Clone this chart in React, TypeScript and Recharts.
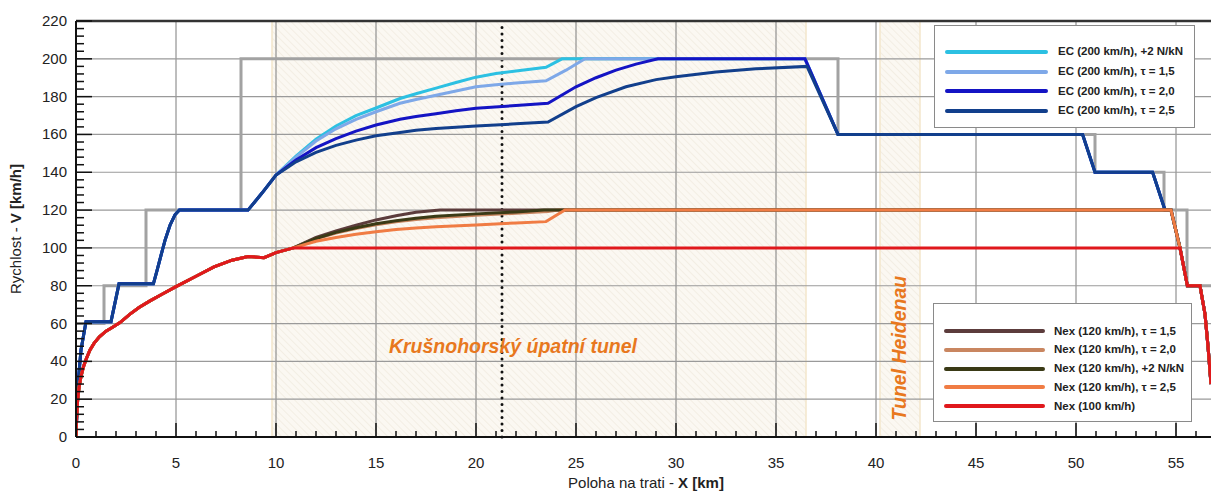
import React from "react";
import {
  LineChart,
  Line,
  XAxis,
  YAxis,
  ReferenceLine,
  ReferenceArea,
  ReferenceDot,
} from "recharts";

const FONT = "'Liberation Sans', Arial, sans-serif";

// speed limit (gray step line)
const speedLimit = [
  { x: 0, v: 60 }, { x: 1.4, v: 60 }, { x: 1.4, v: 80 }, { x: 3.5, v: 80 },
  { x: 3.5, v: 120 }, { x: 8.25, v: 120 }, { x: 8.25, v: 200 }, { x: 38.1, v: 200 },
  { x: 38.1, v: 160 }, { x: 50.95, v: 160 }, { x: 50.95, v: 140 }, { x: 54.4, v: 140 },
  { x: 54.4, v: 120 }, { x: 55.55, v: 120 }, { x: 55.55, v: 80 }, { x: 56.75, v: 80 },
];

// common parts
const ecStart = [
  { x: 0, v: 0 }, { x: 0.1, v: 28 }, { x: 0.25, v: 46 }, { x: 0.5, v: 61 },
  { x: 1.75, v: 61 }, { x: 2.15, v: 81 }, { x: 3.87, v: 81 }, { x: 4.05, v: 88 },
  { x: 4.25, v: 96 }, { x: 4.45, v: 104 }, { x: 4.7, v: 112 }, { x: 4.95, v: 117.5 },
  { x: 5.17, v: 120 }, { x: 8.6, v: 120 }, { x: 9.3, v: 129 }, { x: 10, v: 138.5 },
];
const ecTail = [
  { x: 38.1, v: 160 }, { x: 50.33, v: 160 }, { x: 50.95, v: 140 }, { x: 53.83, v: 140 },
  { x: 54.45, v: 120 },
];
const endDescent = [
  { x: 54.75, v: 120 }, { x: 55.2, v: 100 }, { x: 55.57, v: 80 }, { x: 56.2, v: 80 },
  { x: 56.45, v: 65 }, { x: 56.6, v: 48 }, { x: 56.75, v: 28 },
];
const nexStart = [
  { x: 0, v: 0 }, { x: 0.03, v: 10 }, { x: 0.08, v: 19 }, { x: 0.15, v: 26 },
  { x: 0.25, v: 32 }, { x: 0.37, v: 37 }, { x: 0.5, v: 41 }, { x: 0.7, v: 46 },
  { x: 0.9, v: 49.5 }, { x: 1.17, v: 53 }, { x: 1.5, v: 56 }, { x: 1.83, v: 58 },
  { x: 2.2, v: 60.5 }, { x: 2.7, v: 65 }, { x: 3.15, v: 68.5 }, { x: 3.7, v: 72 },
  { x: 4.3, v: 75.5 }, { x: 5.0, v: 79.5 }, { x: 6.0, v: 85 }, { x: 6.9, v: 90 },
  { x: 7.8, v: 93.5 }, { x: 8.6, v: 95.5 }, { x: 9.4, v: 94.8 }, { x: 10.0, v: 97.5 },
  { x: 10.87, v: 100 },
];

const ecPlus2 = [
  ...ecStart,
  { x: 10.5, v: 143.5 }, { x: 11, v: 148.5 }, { x: 12, v: 157.5 }, { x: 13, v: 164.5 },
  { x: 14, v: 170 }, { x: 15, v: 174 }, { x: 16.2, v: 179 }, { x: 17, v: 181.5 },
  { x: 18, v: 184.5 }, { x: 19, v: 187.5 }, { x: 20, v: 190.3 }, { x: 21, v: 192.2 },
  { x: 22, v: 193.6 }, { x: 23.5, v: 195.5 }, { x: 24.3, v: 200 }, { x: 36.45, v: 200 },
  ...ecTail, ...endDescent,
];
const ecTau15 = [
  ...ecStart,
  { x: 10.5, v: 143.2 }, { x: 11, v: 148 }, { x: 12, v: 156.5 }, { x: 13, v: 163 },
  { x: 14, v: 168 }, { x: 15, v: 172 }, { x: 16.2, v: 176.5 }, { x: 17, v: 178.5 },
  { x: 18, v: 180.7 }, { x: 19, v: 183 }, { x: 20, v: 185.2 }, { x: 21, v: 186.3 },
  { x: 22, v: 187.2 }, { x: 23.5, v: 188.4 }, { x: 24.5, v: 194 }, { x: 25.45, v: 200 },
  { x: 36.45, v: 200 },
  ...ecTail, ...endDescent,
];
const ecTau20 = [
  ...ecStart,
  { x: 10.5, v: 142.5 }, { x: 11, v: 146.5 }, { x: 12, v: 153 }, { x: 13, v: 157.8 },
  { x: 14, v: 161.8 }, { x: 15, v: 165 }, { x: 16.2, v: 168 }, { x: 17, v: 169.5 },
  { x: 18, v: 171 }, { x: 19, v: 172.5 }, { x: 20, v: 173.8 }, { x: 22, v: 175.3 },
  { x: 23.6, v: 176.5 }, { x: 25, v: 185.2 }, { x: 26, v: 190 }, { x: 27, v: 194 },
  { x: 28, v: 197.2 }, { x: 29.1, v: 200 }, { x: 36.45, v: 200 },
  ...ecTail, ...endDescent,
];
const ecTau25 = [
  ...ecStart,
  { x: 10.5, v: 142 }, { x: 11, v: 145.5 }, { x: 12, v: 150.5 }, { x: 13, v: 154.2 },
  { x: 14, v: 157 }, { x: 15, v: 159.3 }, { x: 16.2, v: 161 }, { x: 17, v: 162.2 },
  { x: 18, v: 163.2 }, { x: 20, v: 164.5 }, { x: 22, v: 165.6 }, { x: 23.6, v: 166.6 },
  { x: 25, v: 174.7 }, { x: 26, v: 179.5 }, { x: 27.5, v: 185.2 }, { x: 29, v: 189 },
  { x: 30, v: 190.5 }, { x: 32, v: 193 }, { x: 34, v: 194.7 }, { x: 36.55, v: 196 },
  ...ecTail, ...endDescent,
];

const nexTau15 = [
  ...nexStart,
  { x: 12, v: 105.5 }, { x: 13, v: 109 }, { x: 14, v: 112 }, { x: 15, v: 114.8 },
  { x: 16, v: 117 }, { x: 17, v: 118.8 }, { x: 18.2, v: 120 },
  ...endDescent,
];
const nexTau20 = [
  ...nexStart,
  { x: 12, v: 104.8 }, { x: 13, v: 107.8 }, { x: 14, v: 110.2 }, { x: 15, v: 112.2 },
  { x: 16, v: 113.8 }, { x: 17, v: 115 }, { x: 18, v: 116 }, { x: 20, v: 117.3 },
  { x: 22, v: 118.3 }, { x: 23.6, v: 119.2 }, { x: 24.1, v: 120 },
  ...endDescent,
];
const nexPlus2 = [
  ...nexStart,
  { x: 12, v: 105 }, { x: 13, v: 108.2 }, { x: 14, v: 110.7 }, { x: 15, v: 112.8 },
  { x: 16, v: 114.4 }, { x: 17, v: 115.7 }, { x: 18, v: 116.8 }, { x: 20, v: 118 },
  { x: 22, v: 119 }, { x: 23.4, v: 120 },
  ...endDescent,
];
const nexTau25 = [
  ...nexStart,
  { x: 12, v: 103.5 }, { x: 13, v: 105.5 }, { x: 14, v: 107.2 }, { x: 15, v: 108.6 },
  { x: 16, v: 109.7 }, { x: 17, v: 110.5 }, { x: 18, v: 111.2 }, { x: 20, v: 112.1 },
  { x: 22, v: 113.2 }, { x: 23.5, v: 113.9 }, { x: 24.45, v: 120 },
  ...endDescent,
];
const nex100 = [
  ...nexStart,
  { x: 55.2, v: 100 }, { x: 55.57, v: 80 }, { x: 56.2, v: 80 },
  { x: 56.45, v: 65 }, { x: 56.6, v: 48 }, { x: 56.75, v: 28 },
];

const ecSeries = [
  { name: "EC (200 km/h), +2 N/kN", color: "#2cc0e2", data: ecPlus2 },
  { name: "EC (200 km/h), τ = 1,5", color: "#7ea8e8", data: ecTau15 },
  { name: "EC (200 km/h), τ = 2,0", color: "#1414c4", data: ecTau20 },
  { name: "EC (200 km/h), τ = 2,5", color: "#123f8c", data: ecTau25 },
];
const nexSeries = [
  { name: "Nex (120 km/h), τ = 1,5", color: "#5c3c3c", data: nexTau15 },
  { name: "Nex (120 km/h), τ = 2,0", color: "#c98660", data: nexTau20 },
  { name: "Nex (120 km/h), +2 N/kN", color: "#3a3a16", data: nexPlus2 },
  { name: "Nex (120 km/h), τ = 2,5", color: "#f07c44", data: nexTau25 },
  { name: "Nex (100 km/h)", color: "#e0181c", data: nex100 },
];

const xTicks = Array.from({ length: 57 }, (_, i) => i);
const yTicks = Array.from({ length: 56 }, (_, i) => i * 4);
const xGrid = [5, 10, 15, 20, 25, 30, 35, 40, 45, 50, 55];
const yGrid = [20, 40, 60, 80, 100, 120, 140, 160, 180, 200];

const tunnels = [
  { x1: 9.8, x2: 36.5 },
  { x1: 40.2, x2: 42.2 },
];
const markerKm = 21.3;

const XTick = (props: any) => {
  const { x, y, payload } = props;
  const major = payload.value % 5 === 0;
  return (
    <g>
      <line x1={x} x2={x} y1={y} y2={y - (major ? 14 : 6)} stroke="#111" strokeWidth={1.5} />
      {major && (
        <text x={x} y={y + 31} textAnchor="middle" fontSize={15} fill="#222" fontFamily={FONT}>
          {payload.value}
        </text>
      )}
    </g>
  );
};

const YTick = (props: any) => {
  const { x, y, payload } = props;
  const major = payload.value % 20 === 0;
  return (
    <g>
      <line x1={x} x2={x + (major ? 16 : 8)} y1={y} y2={y} stroke="#111" strokeWidth={1.5} />
      {major && (
        <text x={x - 9} y={y + 5} textAnchor="end" fontSize={15} fill="#222" fontFamily={FONT}>
          {payload.value}
        </text>
      )}
    </g>
  );
};

const LegendBox = ({ items, style, lineLen, textLeft, rowH, top }: any) => (
  <div
    style={{
      position: "absolute",
      background: "#fff",
      border: "1px solid #8a8a8a",
      boxSizing: "border-box",
      fontFamily: FONT,
      fontWeight: "bold",
      fontSize: 11.5,
      color: "#222",
      ...style,
    }}
  >
    {items.map((s: any, i: number) => (
      <div
        key={s.name}
        style={{ position: "absolute", left: 0, top: top + i * rowH - rowH / 2, height: rowH, width: "100%" }}
      >
        <div
          style={{
            position: "absolute",
            left: 10,
            top: rowH / 2 - 2,
            width: lineLen,
            height: 4,
            background: s.color,
            borderRadius: 2,
          }}
        />
        <div style={{ position: "absolute", left: textLeft, top: 0, lineHeight: rowH + "px", whiteSpace: "nowrap" }}>
          {s.name}
        </div>
      </div>
    ))}
  </div>
);

export default function App() {
  return (
    <div style={{ position: "absolute", left: 0, top: 0, width: 1211, height: 491, background: "#fff", overflow: "hidden" }}>
      <LineChart width={1211} height={491} margin={{ top: 21, right: 0, left: 0, bottom: 0 }}>
        <defs>
          <pattern id="hatch" width="5" height="5" patternUnits="userSpaceOnUse" patternTransform="rotate(-45)">
            <rect width="5" height="5" fill="#fbf8f2" />
            <line x1="0" y1="0" x2="0" y2="5" stroke="#efe8dc" strokeWidth="1.2" />
          </pattern>
        </defs>
        <XAxis
          type="number"
          dataKey="x"
          domain={[0, 56.75]}
          ticks={xTicks}
          interval={0}
          tickLine={false}
          tickSize={0}
          tickMargin={0}
          tick={<XTick />}
          height={54}
          axisLine={{ stroke: "#111", strokeWidth: 2 }}
          allowDataOverflow
          label={{
            content: () => (
              <text x={646} y={488} textAnchor="middle" fontSize={15} fill="#222" fontFamily={FONT}>
                Poloha na trati - <tspan fontWeight="bold">X [km]</tspan>
              </text>
            ),
          }}
        />
        <YAxis
          type="number"
          dataKey="v"
          domain={[0, 220]}
          ticks={yTicks}
          interval={0}
          tickLine={false}
          tickSize={0}
          tickMargin={0}
          tick={<YTick />}
          width={76}
          axisLine={{ stroke: "#111", strokeWidth: 2 }}
          allowDataOverflow
          label={{
            content: () => (
              <text
                x={21}
                y={229}
                transform="rotate(-90 21 229)"
                textAnchor="middle"
                fontSize={15}
                fill="#222"
                fontFamily={FONT}
              >
                Rychlost - <tspan fontWeight="bold">V [km/h]</tspan>
              </text>
            ),
          }}
        />
        {tunnels.map((t) => (
          <ReferenceArea
            key={t.x1}
            x1={t.x1}
            x2={t.x2}
            y1={0}
            y2={220}
            fill="url(#hatch)"
            fillOpacity={1}
            stroke="#f4e6cc"
            strokeWidth={1.5}
          />
        ))}
        {xGrid.map((g) => (
          <ReferenceLine key={"gx" + g} x={g} stroke="#7c7c7c" strokeWidth={1} />
        ))}
        {yGrid.map((g) => (
          <ReferenceLine key={"gy" + g} y={g} stroke="#9a9a9a" strokeWidth={1.2} />
        ))}
        <ReferenceLine y={220} stroke="#333" strokeWidth={2.5} />
        <ReferenceLine
          x={markerKm}
          stroke="#111"
          strokeWidth={3}
          strokeDasharray="0 6.5"
          strokeLinecap="round"
        />
        <ReferenceDot
          x={21.85}
          y={48}
          r={0}
          fill="none"
          stroke="none"
          label={{
            value: "Krušnohorský úpatní tunel",
            position: "center",
            fill: "#e8781e",
            fontSize: 19.5,
            fontWeight: "bold",
            fontStyle: "italic",
            fontFamily: FONT,
          }}
        />
        <ReferenceDot
          x={41.15}
          y={47}
          r={0}
          fill="none"
          stroke="none"
          label={{
            value: "Tunel Heidenau",
            position: "center",
            angle: -90,
            fill: "#e8781e",
            fontSize: 19.5,
            fontWeight: "bold",
            fontStyle: "italic",
            fontFamily: FONT,
          }}
        />
        <Line
          data={speedLimit}
          dataKey="v"
          type="linear"
          stroke="#a2a2a2"
          strokeWidth={3}
          dot={false}
          activeDot={false}
          isAnimationActive={false}
        />
        {[...ecSeries, ...nexSeries].map((s) => (
          <Line
            key={s.name}
            data={s.data}
            dataKey="v"
            name={s.name}
            type="linear"
            stroke={s.color}
            strokeWidth={3}
            dot={false}
            activeDot={false}
            isAnimationActive={false}
          />
        ))}
      </LineChart>
      <LegendBox
        items={ecSeries}
        style={{ left: 934, top: 25, width: 261, height: 103 }}
        lineLen={103}
        textLeft={123}
        rowH={19.7}
        top={26}
      />
      <LegendBox
        items={nexSeries}
        style={{ left: 933, top: 303, width: 259, height: 119 }}
        lineLen={101}
        textLeft={120}
        rowH={18.8}
        top={27}
      />
    </div>
  );
}
